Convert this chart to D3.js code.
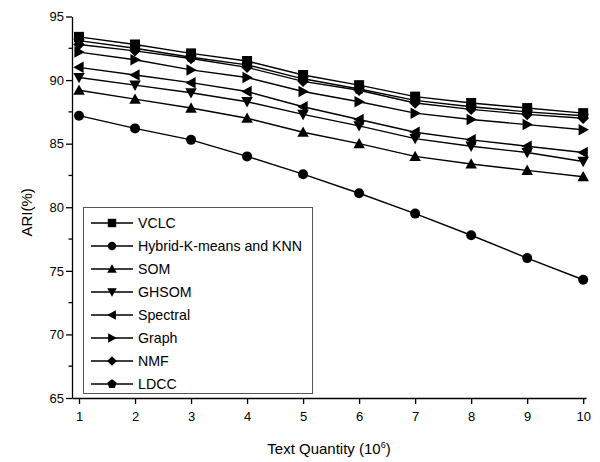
<!DOCTYPE html>
<html>
<head>
<meta charset="utf-8">
<script src="https://cdn.jsdelivr.net/npm/d3@7"></script>
<style>
  body { margin: 0; background: #fff; }
  svg text { font-family: "Liberation Sans", Arial, sans-serif; fill: #000; }
</style>
</head>
<body>
<div id="chart"></div>
<script>
const quantities = [1, 2, 3, 4, 5, 6, 7, 8, 9, 10]
const yTicks = [65, 70, 75, 80, 85, 90, 95]

const vclc     = [93.4, 92.8, 92.1, 91.5, 90.4, 89.6, 88.7, 88.2, 87.8, 87.4]
const hybrid   = [87.2, 86.2, 85.3, 84.0, 82.6, 81.1, 79.5, 77.8, 76.0, 74.3]
const som      = [89.2, 88.5, 87.8, 87.0, 85.9, 85.0, 84.0, 83.4, 82.9, 82.4]
const ghsom    = [90.2, 89.6, 89.0, 88.3, 87.3, 86.4, 85.4, 84.8, 84.3, 83.6]
const spectral = [91.0, 90.4, 89.8, 89.1, 87.9, 86.9, 85.9, 85.3, 84.8, 84.3]
const graph    = [92.2, 91.6, 90.8, 90.2, 89.1, 88.3, 87.4, 86.9, 86.5, 86.1]
const nmf      = [92.8, 92.3, 91.7, 91.0, 89.9, 89.2, 88.2, 87.7, 87.3, 87.0]
const ldcc     = [93.1, 92.5, 91.8, 91.2, 90.1, 89.3, 88.4, 87.9, 87.5, 87.2]

const seriesNames = ["VCLC", "Hybrid-K-means and KNN", "SOM", "GHSOM", "Spectral", "Graph", "NMF", "LDCC"]
const seriesValues = [vclc, hybrid, som, ghsom, spectral, graph, nmf, ldcc]
const markerTypes = ["square", "circle", "up", "down", "left", "right", "diamond", "pentagon"]

const width = 600, height = 462

// marker shapes centred on 0,0
function markerPath(type, s) {
  if (type == "square") return `M${-s},${-s}H${s}V${s}H${-s}Z`
  if (type == "circle") return `M${s},0A${s},${s} 0 1,1 ${-s},0A${s},${s} 0 1,1 ${s},0Z`
  let h = s * 1.15
  if (type == "up") return `M0,${-h}L${h},${h*0.8}L${-h},${h*0.8}Z`
  if (type == "down") return `M0,${h}L${h},${-h*0.8}L${-h},${-h*0.8}Z`
  if (type == "left") return `M${-h},0L${h*0.8},${-h}L${h*0.8},${h}Z`
  if (type == "right") return `M${h},0L${-h*0.8},${-h}L${-h*0.8},${h}Z`
  if (type == "diamond") return `M0,${-h}L${h},0L0,${h}L${-h},0Z`
  let pts = []
  for (let i = 0; i < 5; i++) {
    let a = -Math.PI / 2 + i * 2 * Math.PI / 5
    pts.push([s * 1.15 * Math.cos(a), s * 1.15 * Math.sin(a)])
  }
  return "M" + pts.map(p => p[0].toFixed(2) + "," + p[1].toFixed(2)).join("L") + "Z"
}

let svg = d3.select("#chart").append("svg")
    .attr("width", width)
    .attr("height", height)

const x = d3.scaleLinear().domain([0.875, 10.05]).range([72, 586])
const y = d3.scaleLinear().domain([65, 95]).range([398, 16.5])

// x axis
let xAxis = svg.append("g")
    .attr("transform", `translate(0,${y(65)})`)
    .call(d3.axisBottom(x).tickValues(quantities).tickSize(6).tickSizeOuter(0).tickFormat(d3.format("d")))
xAxis.select(".domain").attr("stroke-width", 1.3)
xAxis.selectAll(".tick line").attr("stroke-width", 1.3)
xAxis.selectAll("text").style("font-size", "13px").attr("dy", "1.1em")

// y axis with minor ticks
let yAxis = svg.append("g")
    .attr("transform", `translate(${x(0.875)},0)`)
    .call(d3.axisLeft(y).tickValues(yTicks).tickSize(6).tickSizeOuter(0))
yAxis.select(".domain").attr("stroke-width", 1.3)
yAxis.selectAll(".tick line").attr("stroke-width", 1.3)
yAxis.selectAll("text").style("font-size", "13px").attr("x", -8)

svg.append("g").selectAll("line")
    .data(d3.range(67.5, 95, 5))
    .enter().append("line")
    .attr("x1", x(0.875) - 3.5).attr("x2", x(0.875))
    .attr("y1", d => y(d)).attr("y2", d => y(d))
    .attr("stroke", "#000").attr("stroke-width", 1.3)

// axis titles
svg.append("text")
    .attr("transform", `translate(32,${y(79.6)}) rotate(-90)`)
    .attr("text-anchor", "middle")
    .style("font-size", "15px")
    .text("ARI(%)")

let xt = svg.append("text")
    .attr("x", 329).attr("y", 454)
    .attr("text-anchor", "middle")
    .style("font-size", "15px")
xt.append("tspan").text("Text Quantity (10")
xt.append("tspan").attr("dy", -6).style("font-size", "9px").text("6")
xt.append("tspan").attr("dy", 6).text(")")

// series
const line = d3.line().x((d, i) => x(quantities[i])).y(d => y(d))

seriesValues.forEach((vals, k) => {
  let g = svg.append("g")
  g.append("path")
      .attr("d", line(vals))
      .attr("fill", "none")
      .attr("stroke", "#000")
      .attr("stroke-width", 1.4)
  g.selectAll("path.m")
      .data(vals)
      .enter().append("path")
      .attr("class", "m")
      .attr("d", markerPath(markerTypes[k], 5))
      .attr("transform", (d, i) => `translate(${x(quantities[i])},${y(d)})`)
      .attr("fill", "#000")
})

// legend
let legend = svg.append("g")
legend.append("rect")
    .attr("x", 83.5).attr("y", 207.5)
    .attr("width", 229).attr("height", 186)
    .attr("fill", "#fff")
    .attr("stroke", "#555")
    .attr("stroke-width", 1)

let rows = legend.selectAll("g.row")
    .data(seriesNames)
    .enter().append("g")
    .attr("class", "row")
    .attr("transform", (d, i) => `translate(0,${223 + i * 23})`)

rows.append("line")
    .attr("x1", 91).attr("x2", 133)
    .attr("stroke", "#000").attr("stroke-width", 1.4)
rows.append("path")
    .attr("d", (d, i) => markerPath(markerTypes[i], 4.2))
    .attr("transform", "translate(112,0)")
    .attr("fill", "#000")
rows.append("text")
    .attr("x", 138).attr("dy", "0.36em")
    .style("font-size", "14.2px")
    .text(d => d)
</script>
</body>
</html>
